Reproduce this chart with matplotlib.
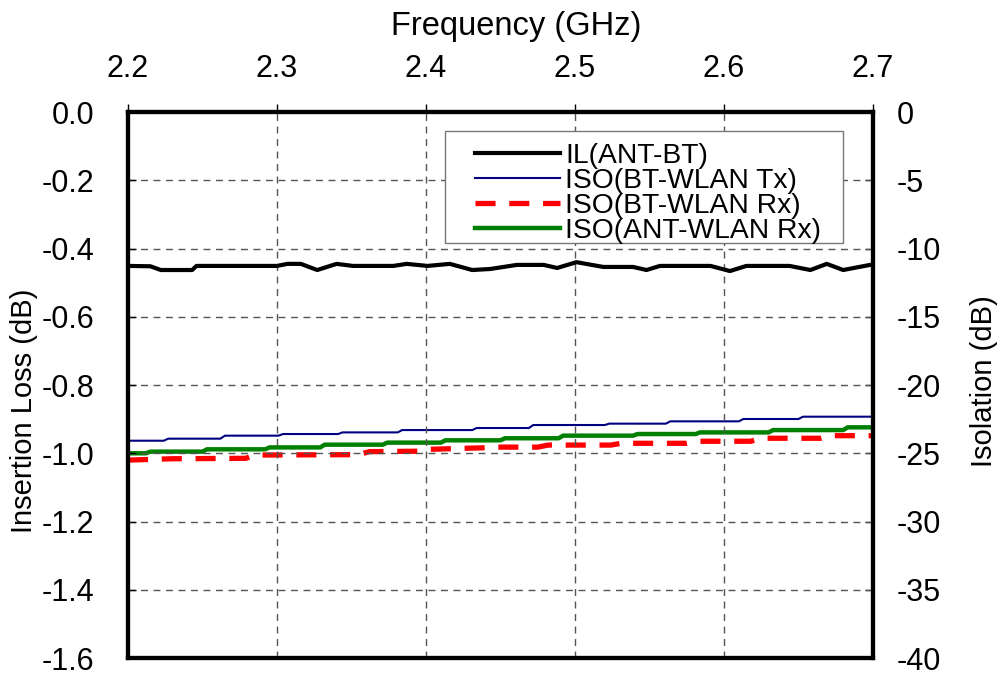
import matplotlib.pyplot as plt
from matplotlib.patches import Rectangle

plt.rcParams['font.family'] = ['Liberation Sans', 'DejaVu Sans']

# IL(ANT-BT), left axis (dB)
il_freq = [2.200, 2.215, 2.222, 2.243, 2.246, 2.300, 2.307, 2.316, 2.327, 2.340,
           2.351, 2.378, 2.387, 2.401, 2.416, 2.431, 2.443, 2.461, 2.479, 2.488,
           2.501, 2.519, 2.539, 2.548, 2.557, 2.591, 2.604, 2.615, 2.644, 2.658,
           2.669, 2.680, 2.698, 2.700]
il_val = [-0.451, -0.452, -0.463, -0.463, -0.451, -0.451, -0.445, -0.445, -0.463, -0.445,
          -0.451, -0.451, -0.445, -0.451, -0.445, -0.463, -0.460, -0.448, -0.448, -0.457,
          -0.440, -0.454, -0.454, -0.463, -0.451, -0.451, -0.466, -0.451, -0.451, -0.463,
          -0.445, -0.463, -0.448, -0.448]

# Isolation curves, right axis (dB)
tx_freq = [2.200, 2.224, 2.227, 2.262, 2.265, 2.301, 2.304, 2.341, 2.344, 2.381,
           2.384, 2.431, 2.434, 2.469, 2.472, 2.520, 2.523, 2.561, 2.564, 2.610,
           2.613, 2.650, 2.653, 2.700]
tx_val = [-24.08, -24.08, -23.93, -23.93, -23.71, -23.71, -23.59, -23.59, -23.47, -23.47,
          -23.30, -23.30, -23.15, -23.15, -22.93, -22.93, -22.83, -22.83, -22.66, -22.66,
          -22.49, -22.49, -22.32, -22.32]

bt_rx_freq = [2.200, 2.230, 2.279, 2.285, 2.355, 2.362, 2.395, 2.402, 2.438, 2.445,
              2.475, 2.482, 2.524, 2.531, 2.575, 2.582, 2.618, 2.625, 2.665, 2.672, 2.700]
bt_rx_val = [-25.50, -25.40, -25.37, -25.13, -25.10, -24.88, -24.85, -24.71, -24.60, -24.55,
             -24.55, -24.40, -24.40, -24.27, -24.27, -24.12, -24.12, -23.90, -23.90, -23.71, -23.71]

ant_rx_freq = [2.200, 2.212, 2.215, 2.250, 2.253, 2.292, 2.295, 2.329, 2.332, 2.371,
               2.374, 2.410, 2.413, 2.450, 2.453, 2.489, 2.492, 2.539, 2.542, 2.581,
               2.584, 2.630, 2.633, 2.680, 2.683, 2.700]
ant_rx_val = [-25.00, -25.00, -24.88, -24.88, -24.71, -24.71, -24.57, -24.57, -24.37, -24.37,
              -24.22, -24.22, -24.05, -24.05, -23.90, -23.90, -23.71, -23.71, -23.59, -23.59,
              -23.47, -23.47, -23.30, -23.30, -23.10, -23.10]

x_ticks = [2.2, 2.3, 2.4, 2.5, 2.6, 2.7]
left_ticks = [0.0, -0.2, -0.4, -0.6, -0.8, -1.0, -1.2, -1.4, -1.6]
right_ticks = [0, -5, -10, -15, -20, -25, -30, -35, -40]

fig = plt.figure(figsize=(10.01, 6.74), dpi=100)
ax = fig.add_axes([0.1279, 0.0237, 0.7442, 0.8101])
ax2 = ax.twinx()

l1, = ax.plot(il_freq, il_val, color='black', lw=3, label='IL(ANT-BT)')
l2, = ax2.plot(tx_freq, tx_val, color='#000080', lw=1.5, label='ISO(BT-WLAN Tx)')
l3, = ax2.plot(bt_rx_freq, bt_rx_val, color='#ff0000', lw=3.8, linestyle=(0, (3.8, 2.6)),
               label='ISO(BT-WLAN Rx)')
l4, = ax2.plot(ant_rx_freq, ant_rx_val, color='#008000', lw=3.2, label='ISO(ANT-WLAN Rx)')

ax.set_xlim(2.2, 2.7)
ax.set_ylim(-1.6, 0.0)
ax2.set_ylim(-40, 0)
ax.set_xticks(x_ticks)
ax.set_xticklabels([f'{v:.1f}' for v in x_ticks])
ax.set_yticks(left_ticks)
ax.set_yticklabels([f'{v:.1f}' for v in left_ticks])
ax2.set_yticks(right_ticks)
ax2.set_yticklabels([str(v) for v in right_ticks])

ax.xaxis.tick_top()
ax.xaxis.set_label_position('top')
ax.tick_params(axis='x', direction='out', length=6, width=1, labelsize=22, pad=14)
ax.tick_params(axis='y', direction='in', length=6, width=1, labelsize=22, pad=24.5)
ax2.tick_params(axis='y', direction='in', length=6, width=1, labelsize=22, pad=17)

ax.set_xlabel('Frequency (GHz)', fontsize=23.5)
ax.xaxis.set_label_coords(0.521, 1.141)
ax.set_ylabel('Insertion Loss (dB)', fontsize=21)
ax.yaxis.set_label_coords(-0.1208, 0.452)
ax2.set_ylabel('Isolation (dB)', fontsize=21)
ax2.yaxis.set_label_coords(1.130, 0.507)

ax.grid(True, color='#555555', linestyle=(0, (5, 4)), linewidth=1)
for a in (ax, ax2):
    for s in a.spines.values():
        s.set_linewidth(3)

# legend box drawn separately so its left padding can be wider than the vertical one
box = Rectangle((0.4255, 0.760), 0.5342, 0.2052, transform=ax.transAxes,
                facecolor='white', edgecolor='#777777', linewidth=1, zorder=4)
ax.add_patch(box)
leg = ax.legend(handles=[l1, l2, l3, l4], loc='upper left', bbox_to_anchor=(0.4658, 0.944),
                borderaxespad=0, borderpad=0, fontsize=20.3, frameon=False,
                handlelength=3.0, handletextpad=0.2, labelspacing=-0.03)
leg.set_zorder(5)
ax.set_zorder(ax2.get_zorder() + 1)
ax.patch.set_visible(False)

fig.savefig('out.png', dpi=100)
